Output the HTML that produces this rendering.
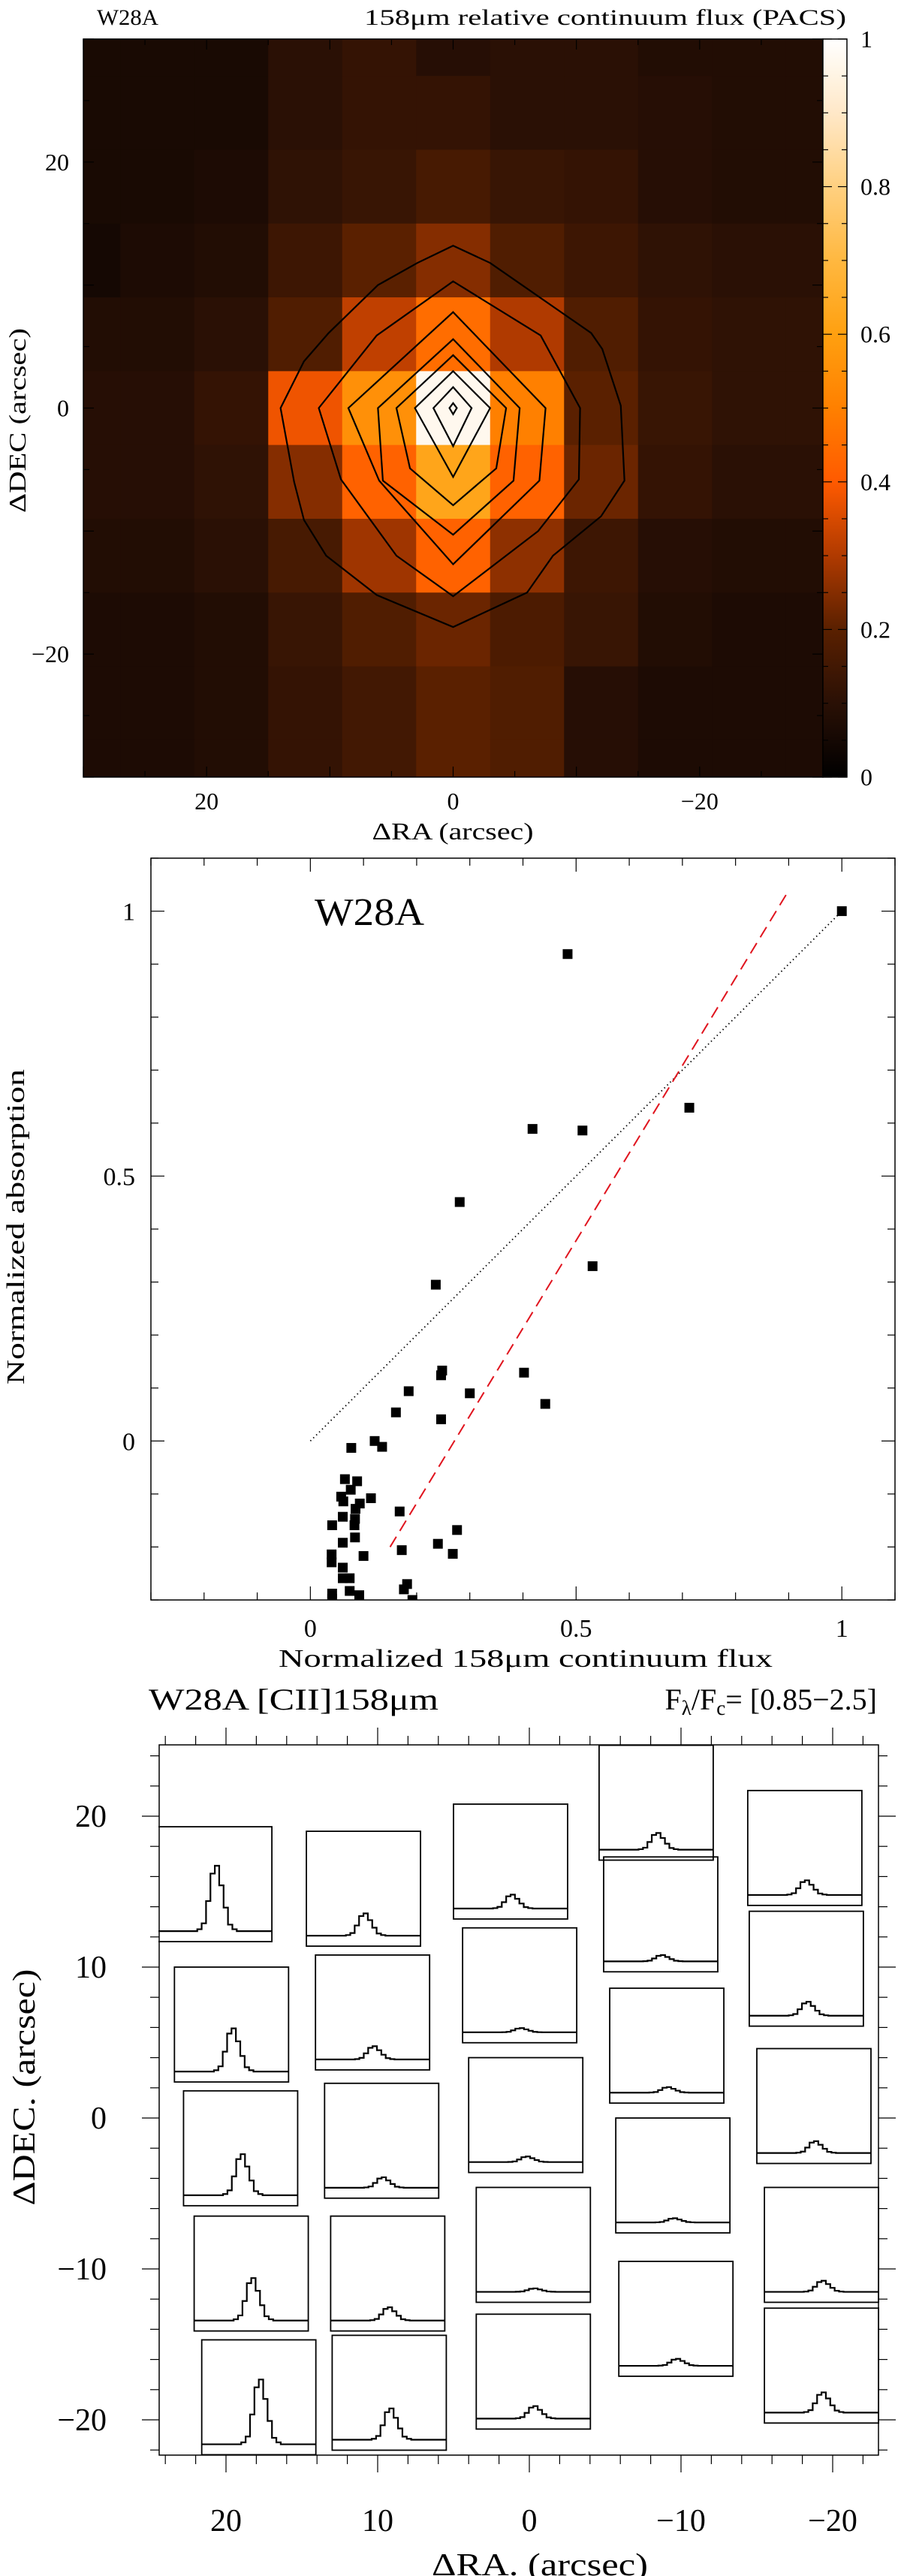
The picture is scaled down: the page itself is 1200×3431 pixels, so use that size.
<!DOCTYPE html>
<html><head><meta charset="utf-8"><title>W28A</title>
<style>html,body{margin:0;padding:0;background:#fff}svg{display:block}text{font-family:"Liberation Serif",serif;fill:#000}</style>
</head><body>
<svg id="fig" width="1200" height="3431" viewBox="0 0 1200 3431" xmlns="http://www.w3.org/2000/svg"></svg>
<script>
// ---------- Panel 1 data: 11x11 continuum map, rows DEC +30..-30, cols RA +30..-30 ----------
const mapCenters = [30,24,18,12,6,0,-6,-12,-18,-24,-30];
const mapRow30  = [0.06,0.06,0.06,0.10,0.12,0.09,0.10,0.10,0.08,0.08,0.08];
const mapRow24  = [0.06,0.06,0.06,0.10,0.12,0.12,0.10,0.10,0.09,0.08,0.08];
const mapRow18  = [0.06,0.06,0.07,0.11,0.13,0.16,0.13,0.12,0.09,0.08,0.08];
const mapRow12  = [0.05,0.07,0.08,0.14,0.20,0.25,0.18,0.14,0.11,0.10,0.10];
const mapRow6   = [0.08,0.08,0.10,0.18,0.32,0.45,0.30,0.18,0.12,0.11,0.11];
const mapRow0   = [0.09,0.09,0.12,0.38,0.55,0.97,0.50,0.20,0.13,0.11,0.11];
const mapRowM6  = [0.09,0.09,0.11,0.25,0.42,0.62,0.42,0.22,0.12,0.10,0.10];
const mapRowM12 = [0.08,0.08,0.10,0.16,0.28,0.42,0.26,0.14,0.09,0.08,0.08];
const mapRowM18 = [0.07,0.07,0.08,0.13,0.18,0.22,0.17,0.13,0.08,0.07,0.07];
const mapRowM24 = [0.07,0.07,0.08,0.12,0.15,0.20,0.18,0.09,0.07,0.07,0.07];
const mapRowM30 = [0.07,0.07,0.08,0.12,0.15,0.20,0.18,0.09,0.07,0.07,0.07];
const contour1 = [[0,13.2],[-3,11.8],[-11.2,6.1],[-12.1,4.8],[-13.6,0.2],[-13.9,-5.9],[-12,-8.8],[-8.1,-12],[-6,-15],[0,-17.8],[6.2,-15.2],[10.3,-12],[12.1,-9.1],[12.9,-6],[14,0],[12.1,3.8],[10.1,6.1],[6.1,10],[2.9,11.8]];
const contour2 = [[0,10.3],[-7.1,5.9],[-10.3,0],[-10.2,-5.8],[-6.9,-10],[0,-15.3],[4.6,-12],[9.1,-5.8],[10.9,0],[6.2,5.9]];
const contour3 = [[0,7.8],[-7.5,0],[-7,-5.9],[0,-12.7],[6,-5.9],[8.5,0]];
const contour4 = [[0,5.6],[-5.4,0],[-4.9,-5.9],[0,-10.3],[5.7,-5.9],[6.1,0]];
const contour5 = [[0,4.3],[-4.3,0],[-3.5,-4.9],[0,-7.9],[3.5,-4.9],[4.6,0]];
const contour6 = [[0,3.0],[-3.0,0],[0,-5.6],[3.1,0]];
const contour7 = [[0,1.7],[-1.5,0],[0,-3.1],[1.6,0]];
const contour8 = [[0,0.4],[-0.3,0],[0,-0.5],[0.3,0]];
const map1Ticks = [20,0,-20];
const cbarTicks = [0,0.2,0.4,0.6,0.8,1];

// ---------- Panel 2 data ----------
const fluxX = [1,0.484,0.713,0.418,0.512,0.281,0.531,0.236,0.248,0.246,0.402,0.185,0.300,0.442,0.161,0.246,0.121,0.135,0.077,0.065,0.088,0.076,0.114,0.058,0.093,0.062,0.085,0.168,0.061,0.084,0.041,0.083,0.276,0.084,0.061,0.240,0.172,0.040,0.268,0.100,0.040,0.061,0.061,0.074,0.182,0.176,0.074,0.041,0.092,0.192,0.041];
const absorbY = [1,0.919,0.629,0.589,0.586,0.451,0.330,0.295,0.133,0.124,0.129,0.094,0.090,0.070,0.054,0.041,0.0,-0.011,-0.013,-0.072,-0.076,-0.092,-0.108,-0.105,-0.118,-0.114,-0.128,-0.133,-0.143,-0.147,-0.159,-0.159,-0.168,-0.182,-0.192,-0.194,-0.206,-0.214,-0.213,-0.217,-0.229,-0.239,-0.259,-0.259,-0.270,-0.280,-0.283,-0.288,-0.291,-0.300,-0.298];
const dottedLine = [[0,0],[1,1]];
const fitLine = [[0.15,-0.2],[0.90,1.039]];
const scatterTicks = [0,0.5,1];

// ---------- Panel 3 data: spectra grid ----------
const boxRA  = [24.5,23.4,22.8,22.1,21.6, 14.7,14.1,13.5,13.1,13.0, 5.0,4.4,4.0,3.5,3.5, -4.6,-4.9,-5.3,-5.7,-5.9, -14.4,-14.5,-15.0,-15.5,-15.5];
const boxDEC = [19.3,10.0,1.8,-6.5,-14.7, 19.0,10.8,2.3,-6.5,-14.4, 20.8,12.6,4.0,-4.6,-13.0, 24.7,17.3,8.6,0,-9.5, 21.7,13.7,4.6,-4.6,-12.6];
const linePeak = [0.94,0.62,0.59,0.61,0.93, 0.32,0.19,0.15,0.19,0.45, 0.20,0.06,0.08,0.05,0.18, 0.24,0.09,0.08,0.06,0.10, 0.21,0.20,0.17,0.16,0.29];
const lineProfile = [0,0,0,0,0,0,0,0,0,0.03,0.12,0.46,0.88,1.0,0.7,0.36,0.1,0.03,0,0,0,0,0,0,0,0];
const specTicks = [20,10,0,-10,-20];

const NS = "http://www.w3.org/2000/svg";
const svg = document.getElementById('fig');
function mk(tag, attrs, parent) {
  const e = document.createElementNS(NS, tag);
  for (const k in attrs) e.setAttribute(k, attrs[k]);
  (parent || svg).appendChild(e);
  return e;
}
function txt(str, x, y, size, anchor, len, parent) {
  const a = {x:x, y:y, 'font-size':size, 'text-anchor':anchor||'start'};
  if (len) { a.textLength = len; a.lengthAdjust = 'spacingAndGlyphs'; }
  const t = mk('text', a, parent);
  t.textContent = str;
  return t;
}
const stops = [[0,[0,0,0]],[0.1,[42,16,5]],[0.2,[90,32,0]],[0.3,[176,58,0]],[0.4,[255,90,0]],[0.5,[255,128,0]],[0.6,[255,160,16]],[0.7,[255,184,64]],[0.8,[255,208,128]],[0.9,[255,232,200]],[1,[255,255,255]]];
function cmap(v){ v=Math.max(0,Math.min(1,v)); for(let i=1;i<stops.length;i++){ if(v<=stops[i][0]){const a=stops[i-1],b=stops[i];const f=(v-a[0])/(b[0]-a[0]);const c=a[1].map((q,j)=>Math.round(q+(b[1][j]-q)*f));return 'rgb('+c.join(',')+')';}} return '#fff'; }
const defs = mk('defs',{});

// ================= Panel 1 =================
const P1 = {l:111,r:1096,t:52,b:1035};
const x1 = v => P1.l + (30 - v)/60*(P1.r-P1.l);
const y1 = v => P1.t + (30 - v)/60*(P1.b-P1.t);
const g1 = mk('g',{});


const clip1 = mk('clipPath',{id:'c1'},defs);
mk('rect',{x:P1.l,y:P1.t,width:P1.r-P1.l,height:P1.b-P1.t},clip1);
const cells = mk('g',{'clip-path':'url(#c1)'},g1);


const mapRows = [mapRow30,mapRow24,mapRow18,mapRow12,mapRow6,mapRow0,mapRowM6,mapRowM12,mapRowM18,mapRowM24,mapRowM30];
mapRows.forEach((row,ri)=>row.forEach((v,ci)=>{
  const xa=x1(mapCenters[ci]+3), xb=x1(mapCenters[ci]-3), ya=y1(mapCenters[ri]+3), yb=y1(mapCenters[ri]-3);
  const c = mk('rect',{x:xa,y:ya,width:xb-xa+0.5,height:yb-ya+0.5,fill:cmap(v)},cells);
  
  
}));
[contour1,contour2,contour3,contour4,contour5,contour6,contour7,contour8].forEach(cn=>{
  const p = mk('polygon',{points:cn.map(q=>x1(q[0])+','+y1(q[1])).join(' '),fill:'none',stroke:'#000','stroke-width':2.2},g1);
  
  
});
const fr1 = mk('rect',{x:P1.l,y:P1.t,width:P1.r-P1.l,height:P1.b-P1.t,fill:'none',stroke:'#000','stroke-width':1.5},g1);


for(let v=-30; v<=30; v+=5){
  const L = (v%10===0)?14:8;
  mk('line',{x1:x1(v),x2:x1(v),y1:P1.b,y2:P1.b-L,stroke:'#000','stroke-width':1.2},g1);
  mk('line',{x1:x1(v),x2:x1(v),y1:P1.t,y2:P1.t+L,stroke:'#000','stroke-width':1.2},g1);
  mk('line',{y1:y1(v),y2:y1(v),x1:P1.l,x2:P1.l+L,stroke:'#000','stroke-width':1.2},g1);
  mk('line',{y1:y1(v),y2:y1(v),x1:P1.r,x2:P1.r-L,stroke:'#000','stroke-width':1.2},g1);
}
map1Ticks.forEach(v=>{
  const a = txt(v<0?'\u2212'+(-v):String(v), x1(v), 1078, 32, 'middle', null, g1);
  
  
  const b = txt(v<0?'\u2212'+(-v):String(v), 92, y1(v)+11, 32, 'end', null, g1);
  
  
});
const t1a = txt('W28A',129,33,30,'start',82,g1);


const t1b = txt('158\u03BCm relative continuum flux (PACS)',1127,33,30,'end',642,g1);


const t1c = txt('\u0394RA (arcsec)',603,1118,32,'middle',215,g1);


const t1d = txt('\u0394DEC (arcsec)',0,0,32,'middle',246,g1);
t1d.setAttribute('transform','translate(34,560) rotate(-90)');


// colorbar
const CB = {l:1096,r:1128,t:52,b:1035};
const cbY = v => CB.b - v*(CB.b-CB.t);
const grad = mk('linearGradient',{id:'cbg',x1:0,y1:1,x2:0,y2:0},defs);
for(let i=0;i<=20;i++){ mk('stop',{offset:(i/20),'stop-color':cmap(i/20)},grad); }
const cb = mk('rect',{x:CB.l,y:CB.t,width:CB.r-CB.l,height:CB.b-CB.t,fill:'url(#cbg)',stroke:'#000','stroke-width':1.5},g1);


for(let i=0;i<=20;i++){
  const v=i/20, L=(i%4===0)?12:7;
  mk('line',{x1:CB.l,x2:CB.l+L,y1:cbY(v),y2:cbY(v),stroke:'#000','stroke-width':1.2},g1);
  mk('line',{x1:CB.r,x2:CB.r-L,y1:cbY(v),y2:cbY(v),stroke:'#000','stroke-width':1.2},g1);
}
cbarTicks.forEach(v=>{
  const a = txt(String(v), 1146, cbY(v)+11, 32, 'start', null, g1);
  
  
});

// ================= Panel 2 =================
const P2 = {l:201,r:1192,t:1143,b:2131};
const x2 = v => P2.l + (v + 0.3)/1.4*(P2.r-P2.l);
const y2 = v => P2.b - (v + 0.3)/1.4*(P2.b-P2.t);
const g2 = mk('g',{});


const fr2 = mk('rect',{x:P2.l,y:P2.t,width:P2.r-P2.l,height:P2.b-P2.t,fill:'none',stroke:'#000','stroke-width':1.5},g2);


for(let i=-3;i<=11;i++){
  const v=i/10, L=(i%5===0)?18:10;
  mk('line',{x1:x2(v),x2:x2(v),y1:P2.b,y2:P2.b-L,stroke:'#000','stroke-width':1.2},g2);
  mk('line',{x1:x2(v),x2:x2(v),y1:P2.t,y2:P2.t+L,stroke:'#000','stroke-width':1.2},g2);
  mk('line',{y1:y2(v),y2:y2(v),x1:P2.l,x2:P2.l+L,stroke:'#000','stroke-width':1.2},g2);
  mk('line',{y1:y2(v),y2:y2(v),x1:P2.r,x2:P2.r-L,stroke:'#000','stroke-width':1.2},g2);
}
scatterTicks.forEach(v=>{
  const a = txt(String(v), x2(v), 2180, 34, 'middle', null, g2);
  
  
  const b = txt(String(v), 180, y2(v)+12, 34, 'end', null, g2);
  
  
});
const dl = mk('line',{x1:x2(dottedLine[0][0]),y1:y2(dottedLine[0][1]),x2:x2(dottedLine[1][0]),y2:y2(dottedLine[1][1]),stroke:'#000','stroke-width':1.8,'stroke-dasharray':'1.5,4'},g2);


const fl = mk('line',{x1:x2(fitLine[0][0]),y1:y2(fitLine[0][1]),x2:x2(fitLine[1][0]),y2:y2(fitLine[1][1]),stroke:'#e0141e','stroke-width':2,'stroke-dasharray':'16,9'},g2);


const clip2 = mk('clipPath',{id:'c2'},defs);
mk('rect',{x:P2.l,y:P2.t,width:P2.r-P2.l,height:P2.b-P2.t},clip2);
const pts = mk('g',{'clip-path':'url(#c2)'},g2);


fluxX.forEach((fx,i)=>{
  const s = mk('rect',{x:x2(fx)-6.5,y:y2(absorbY[i])-6.5,width:13,height:13,fill:'#000'},pts);
  
  
});
const t2a = txt('W28A',419,1232,52,'start',146,g2);


const t2b = txt('Normalized 158\u03BCm continuum flux',700,2220,34,'middle',658,g2);


const t2c = txt('Normalized absorption',0,0,34,'middle',420,g2);
t2c.setAttribute('transform','translate(32,1634) rotate(-90)');



// ================= Panel 3 =================
const P3 = {l:212,r:1170,t:2324,b:3270};
const x3 = v => 705 - v*20.2;
const y3 = v => 2821 - v*20.1;
const g3 = mk('g',{});


const fr3 = mk('rect',{x:P3.l,y:P3.t,width:P3.r-P3.l,height:P3.b-P3.t,fill:'none',stroke:'#000','stroke-width':1.5},g3);


for(let v=-24; v<=24; v+=2){
  const L=(v%10===0)?23:12;
  if (x3(v)>=P3.l-1 && x3(v)<=P3.r+1){
    mk('line',{x1:x3(v),x2:x3(v),y1:P3.t,y2:P3.t-L,stroke:'#000','stroke-width':1.2},g3);
    mk('line',{x1:x3(v),x2:x3(v),y1:P3.b,y2:P3.b+L,stroke:'#000','stroke-width':1.2},g3);
  }
  if (y3(v)>=P3.t-1 && y3(v)<=P3.b+1){
    mk('line',{y1:y3(v),y2:y3(v),x1:P3.l,x2:P3.l-L,stroke:'#000','stroke-width':1.2},g3);
    mk('line',{y1:y3(v),y2:y3(v),x1:P3.r,x2:P3.r+L,stroke:'#000','stroke-width':1.2},g3);
  }
}
specTicks.forEach(v=>{
  const lab = v<0?'\u2212'+(-v):String(v);
  const a = txt(lab, x3(v), 3371, 42, 'middle', null, g3);
  
  
  const b = txt(lab, 142, y3(v)+14, 42, 'end', null, g3);
  
  
});
const clip3 = mk('clipPath',{id:'c3'},defs);
mk('rect',{x:P3.l-1,y:P3.t-1,width:P3.r-P3.l+2,height:P3.b-P3.t+2},clip3);
const BW = 152, BH = 153, NCH = lineProfile.length;
boxRA.forEach((ra,i)=>{
  const bx = x3(ra), by = y3(boxDEC[i]);
  const bg = mk('g',{},g3);
  
  
  const fy = f => by + BH - (f-0.85)/1.65*BH;
  let d = '';
  const cw = BW/NCH;
  lineProfile.forEach((p,k)=>{
    const yy = fy(1 + linePeak[i]*p);
    d += (k===0?'M':'L')+(bx+k*cw)+','+yy+' L'+(bx+(k+1)*cw)+','+yy+' ';
  });
  const sp = mk('path',{d:d,fill:'none',stroke:'#000','stroke-width':2.2,'clip-path':'url(#c3)'},bg);
  
  
  const br = mk('rect',{x:bx,y:by,width:BW,height:BH,fill:'none',stroke:'#000','stroke-width':1.8,'clip-path':'url(#c3)'},bg);
  
  
});
const t3a = txt('W28A  [CII]158\u03BCm',198,2277,40,'start',386,g3);


const t3b = mk('text',{x:1168,y:2277,'font-size':40,'text-anchor':'end'},g3);
t3b.innerHTML = 'F<tspan font-size="27" dy="7">\u03BB</tspan><tspan dy="-7">/F</tspan><tspan font-size="27" dy="7">c</tspan><tspan dy="-7">=  [0.85\u22122.5]</tspan>';


const t3c = txt('\u0394RA. (arcsec)',719,3430,42,'middle',288,g3);


const t3d = txt('\u0394DEC. (arcsec)',0,0,42,'middle',315,g3);
t3d.setAttribute('transform','translate(46,2780) rotate(-90)');


</script>
</body></html>
